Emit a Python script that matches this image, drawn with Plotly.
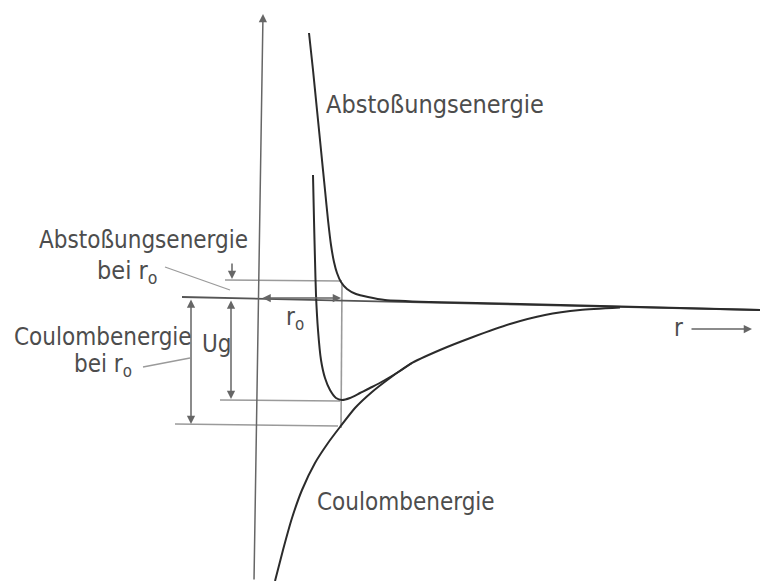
import plotly.graph_objects as go

# Kurven (Pixelkoordinaten der Vorlage, y nach unten)
abst_x = [309, 313, 317, 321, 325, 328, 331, 334, 337, 341, 347, 356, 368, 385, 430, 520, 640, 760]
abst_y = [33, 70, 110, 150, 190, 220, 245, 262, 273, 282, 289, 294, 297, 300, 302, 304, 307, 310]

coul_x = [275, 283, 292, 302, 315, 328, 340, 355, 372, 390, 410, 440, 473, 510, 545, 580, 620]
coul_y = [581, 550, 518, 490, 463, 443, 427, 408, 392, 378, 364, 350, 337, 324, 315, 310, 307.5]

ges_x = [313, 314, 315, 316, 318, 321, 325, 330, 336, 342, 350, 360, 372, 385, 400, 412]
ges_y = [175, 220, 260, 295, 330, 360, 378, 390, 398, 400, 398, 393, 387, 380, 371, 363]

null_x = [182, 760]
null_y = [297, 310]

# Hilfslinien: Höhe der Energien bei r0 und Lage von r0
hilf_x = [[225, 342], [220, 340], [175, 338], [342, 341]]
hilf_y = [[280, 281], [400, 401], [424, 426], [283, 428]]

# Bemaßungspfeile (x0, y0, x1, y1, beidseitig)
pfeile = [
    (232, 262, 232, 279, False),
    (231, 299, 231, 399, True),
    (191, 298, 191, 424, True),
    (261, 298, 341, 298, True),
    (690, 329, 752, 329, False),
    (254, 581, 263, 14, False),
]

# Hinweislinien zu den Beschriftungen
hinweis_x = [[165, 230], [143, 190]]
hinweis_y = [[267, 290], [367, 358]]

# Beschriftungen (Text, x, y, Größe)
texte = [
    ("Abstoßungsenergie", 324, 104, 25),
    ("Abstoßungsenergie", 37, 240, 24),
    ("bei r<sub>o</sub>", 95, 272, 25),
    ("Coulombenergie", 12, 337, 24),
    ("bei r<sub>o</sub>", 72, 365, 24),
    ("Ug", 200, 344, 24),
    ("r<sub>o</sub>", 284, 318, 24),
    ("Coulombenergie", 315, 502, 24),
    ("r", 672, 328, 24),
]

KURVE = "#2b2b2b"
HILF = "#9a9a9a"
SCHRIFT = "#4d4d4d"
FONT = "Liberation Sans Narrow, DejaVu Sans Condensed, sans-serif"


def segmente(xs, ys):
    px, py = [], []
    for sx, sy in zip(xs, ys):
        px += sx + [None]
        py += sy + [None]
    return px, py


fig = go.Figure()

hx, hy = segmente(hilf_x, hilf_y)
fig.add_trace(go.Scatter(x=hx, y=hy, mode="lines", line=dict(color=HILF, width=1.6)))
nx, ny = segmente(hinweis_x, hinweis_y)
fig.add_trace(go.Scatter(x=nx, y=ny, mode="lines", line=dict(color=HILF, width=1.3)))
fig.add_trace(go.Scatter(x=null_x, y=null_y, mode="lines", line=dict(color="#555555", width=1.8)))

for xs, ys in [(abst_x, abst_y), (coul_x, coul_y), (ges_x, ges_y)]:
    fig.add_trace(go.Scatter(x=xs, y=ys, mode="lines",
                             line=dict(color=KURVE, width=2, shape="spline", smoothing=0.6)))

for x0, y0, x1, y1, beide in pfeile:
    fig.add_annotation(
        x=x1, y=y1, ax=x0, ay=y0, xref="x", yref="y", axref="x", ayref="y",
        text="", showarrow=True, arrowhead=2, arrowsize=1.1, arrowwidth=1.5,
        arrowcolor="#666666", arrowside="end+start" if beide else "end",
    )

for txt, x, y, size in texte:
    fig.add_annotation(
        x=x, y=y, xref="x", yref="y", text=txt, showarrow=False,
        xanchor="left", yanchor="middle",
        font=dict(family=FONT, size=size, color=SCHRIFT),
    )

fig.update_layout(
    width=760, height=581,
    margin=dict(l=0, r=0, t=0, b=0),
    paper_bgcolor="white", plot_bgcolor="white",
    showlegend=False,
    xaxis=dict(range=[0, 760], visible=False),
    yaxis=dict(range=[581, 0], visible=False),
)

# Seitenrand des Browsers entfernen, damit die Zeichnung bündig sitzt
fig.write_html("out.html", config={"displayModeBar": False},
               post_script="document.body.style.margin='0';")
